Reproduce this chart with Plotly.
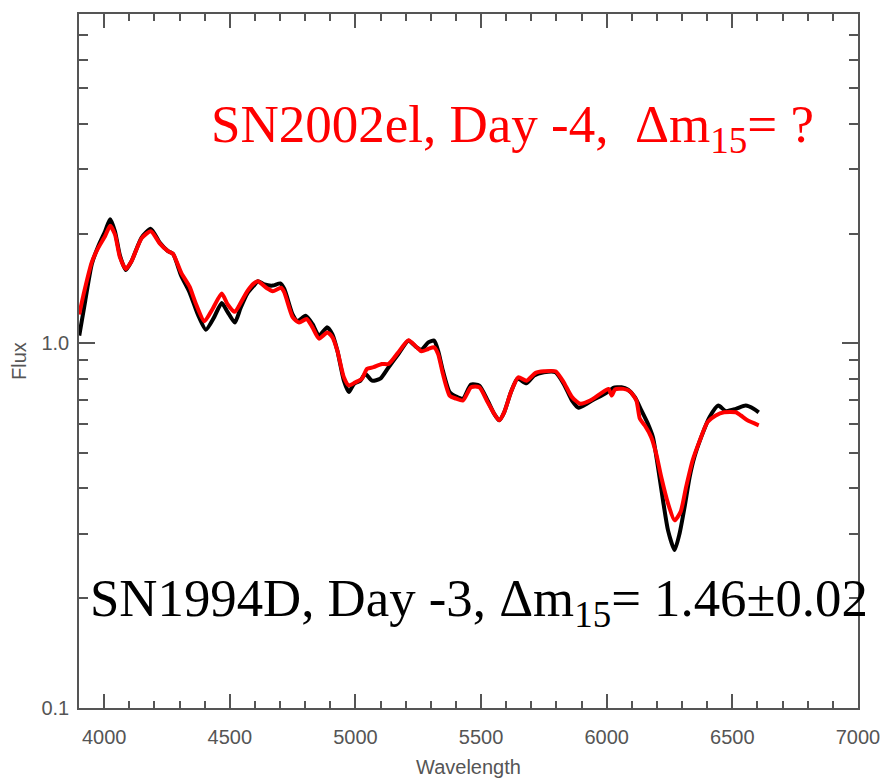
import plotly.graph_objects as go

# SN1994D spectrum (black), day -3
wave_94d = [3901, 3925, 3951, 3977, 4004, 4024, 4043, 4063, 4086, 4109, 4149, 4186,
            4221, 4254, 4274, 4307, 4340, 4373, 4405, 4438, 4468, 4491, 4520, 4543,
            4570, 4596, 4612, 4638, 4671, 4701, 4717, 4750, 4770, 4802, 4829, 4855,
            4888, 4908, 4928, 4954, 4974, 4994, 5020, 5039, 5066, 5099, 5132, 5171,
            5211, 5244, 5263, 5290, 5313, 5329, 5348, 5375, 5401, 5428, 5460, 5493,
            5526, 5552, 5572, 5592, 5619, 5645, 5681, 5711, 5750, 5796, 5829, 5862,
            5888, 5921, 5954, 5980, 6013, 6026, 6059, 6085, 6112, 6138, 6164, 6184,
            6204, 6224, 6244, 6270, 6290, 6310, 6330, 6349, 6376, 6409, 6444, 6474,
            6514, 6553, 6586, 6605]
flux_94d = [1.05, 1.31, 1.65, 1.85, 2.03, 2.19, 2.03, 1.74, 1.59, 1.68, 1.95, 2.06,
            1.89, 1.79, 1.76, 1.53, 1.38, 1.20, 1.09, 1.18, 1.29, 1.22, 1.14, 1.25,
            1.37, 1.44, 1.48, 1.45, 1.44, 1.46, 1.41, 1.20, 1.15, 1.19, 1.13, 1.05,
            1.106, 1.06, 0.955, 0.79, 0.735, 0.774, 0.79, 0.825, 0.79, 0.80, 0.86, 0.935,
            1.017, 0.975, 0.96, 1.006, 1.017, 0.955, 0.842, 0.735, 0.715, 0.705, 0.771, 0.766,
            0.697, 0.641, 0.615, 0.647, 0.735, 0.80, 0.777, 0.816, 0.833, 0.833, 0.774, 0.697,
            0.666, 0.683, 0.705, 0.719, 0.743, 0.755, 0.758, 0.746, 0.712, 0.655, 0.602, 0.553,
            0.458, 0.371, 0.307, 0.271, 0.301, 0.356, 0.43, 0.488, 0.553, 0.627, 0.675, 0.652,
            0.661, 0.675, 0.661, 0.647]

# SN2002el spectrum (red), day -4
wave_02el = [3901, 3918, 3951, 3977, 4004, 4024, 4043, 4063, 4086, 4109, 4149, 4186,
             4221, 4254, 4274, 4307, 4340, 4366, 4399, 4431, 4468, 4491, 4520, 4543,
             4570, 4596, 4612, 4645, 4671, 4704, 4717, 4750, 4776, 4806, 4829, 4855,
             4888, 4908, 4928, 4954, 4974, 5000, 5026, 5046, 5072, 5105, 5132, 5171,
             5211, 5244, 5263, 5290, 5313, 5329, 5348, 5375, 5401, 5428, 5460, 5493,
             5526, 5552, 5572, 5592, 5619, 5648, 5681, 5717, 5750, 5796, 5829, 5862,
             5895, 5934, 5974, 6007, 6020, 6033, 6066, 6092, 6118, 6132, 6151, 6177,
             6197, 6217, 6244, 6270, 6294, 6316, 6342, 6368, 6401, 6434, 6467, 6514,
             6534, 6560, 6605]
flux_02el = [1.20, 1.36, 1.67, 1.83, 1.97, 2.10, 1.99, 1.72, 1.60, 1.68, 1.94, 2.03,
             1.88, 1.79, 1.76, 1.56, 1.43, 1.28, 1.15, 1.24, 1.37, 1.28, 1.22, 1.29,
             1.39, 1.46, 1.48, 1.42, 1.39, 1.42, 1.38, 1.18, 1.14, 1.166, 1.106, 1.03,
             1.07, 1.04, 0.955, 0.807, 0.766, 0.782, 0.80, 0.851, 0.86, 0.878, 0.878, 0.945,
             1.02, 0.975, 0.951, 0.965, 0.975, 0.935, 0.825, 0.719, 0.705, 0.697, 0.758, 0.758,
             0.690, 0.641, 0.615, 0.647, 0.735, 0.807, 0.79, 0.83, 0.838, 0.838, 0.782, 0.712,
             0.683, 0.697, 0.727, 0.750, 0.719, 0.747, 0.750, 0.739, 0.697, 0.621, 0.596, 0.553,
             0.498, 0.43, 0.364, 0.327, 0.345, 0.404, 0.478, 0.536, 0.608, 0.634, 0.647, 0.647,
             0.634, 0.615, 0.596]

x_ticks = [4000, 4500, 5000, 5500, 6000, 6500, 7000]
y_ticks = [0.1, 1.0]
y_ticklabels = ["0.1", "1.0"]
y_minor = [0.2, 0.3, 0.4, 0.5, 0.6, 0.7, 0.8, 0.9, 2, 3, 4, 5, 6, 7, 8]

label_red = "SN2002el, Day -4,\u00a0 \u0394m<sub>15</sub>= ?"
label_black = "SN1994D, Day -3, \u0394m<sub>15</sub>= 1.46\u00b10.02"

axis_color = "#555555"
tick_font = dict(family="Liberation Sans", size=20, color=axis_color)

fig = go.Figure()
fig.add_trace(go.Scatter(x=wave_94d, y=flux_94d, mode="lines",
                         line=dict(color="#000000", width=4, shape="spline", smoothing=0.6),
                         showlegend=False))
fig.add_trace(go.Scatter(x=wave_02el, y=flux_02el, mode="lines",
                         line=dict(color="#ff0000", width=4, shape="spline", smoothing=0.6),
                         showlegend=False))

fig.update_layout(
    width=892, height=780,
    margin=dict(l=79, r=26, t=12, b=72),
    paper_bgcolor="white", plot_bgcolor="white",
    xaxis=dict(
        range=[3900, 7000], tickvals=x_ticks, ticks="inside", ticklen=14, tickwidth=1.5,
        tickcolor=axis_color, showline=True, linecolor=axis_color, linewidth=1.5,
        mirror="ticks", showgrid=False, zeroline=False, tickfont=tick_font,
        ticklabelstandoff=10,
        minor=dict(dtick=100, ticks="inside", ticklen=7, tickwidth=1.5,
                   tickcolor=axis_color, showgrid=False),
    ),
    yaxis=dict(
        type="log", range=[-1, 0.90309], tickvals=y_ticks, ticktext=y_ticklabels,
        ticks="inside", ticklen=16, tickwidth=1.5, tickcolor=axis_color,
        showline=True, linecolor=axis_color, linewidth=1.5, mirror="ticks",
        showgrid=False, zeroline=False, tickfont=tick_font, ticklabelstandoff=4,
        minor=dict(tickvals=y_minor, ticks="inside", ticklen=9, tickwidth=1.5,
                   tickcolor=axis_color, showgrid=False),
    ),
    annotations=[
        dict(text="Wavelength", xref="paper", yref="paper", x=0.5, y=-0.085,
             xanchor="center", yanchor="middle", showarrow=False,
             font=dict(family="Liberation Sans", size=20, color=axis_color)),
        dict(text="Flux", xref="paper", yref="paper", x=-0.077, y=0.5,
             xanchor="center", yanchor="middle", showarrow=False, textangle=-90,
             font=dict(family="Liberation Sans", size=20, color=axis_color)),
        dict(text=label_red, xref="paper", yref="paper", x=0.167, y=0.836,
             xanchor="left", yanchor="middle", showarrow=False,
             font=dict(family="Liberation Serif", size=53, color="#ff0000")),
        dict(text=label_black, xref="paper", yref="paper", x=0.011, y=0.153,
             xanchor="left", yanchor="middle", showarrow=False,
             font=dict(family="Liberation Serif", size=52.8, color="#000000")),
    ],
)

fig.write_html("out.html")
